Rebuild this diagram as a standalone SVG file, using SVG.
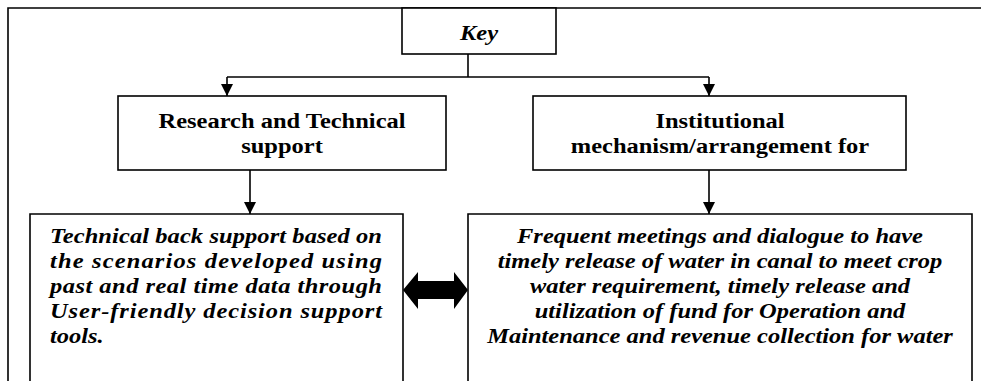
<svg xmlns="http://www.w3.org/2000/svg" width="981" height="381" viewBox="0 0 981 381">
<style>
.box{fill:#fff;stroke:#000;stroke-width:1.6}
.ln{fill:none;stroke:#000;stroke-width:1.6}
.i{font-style:italic}
.c{text-anchor:middle}
</style>
<defs>
<marker id="ah" viewBox="0 0 12 12" refX="12" refY="6" markerWidth="12" markerHeight="12" markerUnits="userSpaceOnUse" orient="auto">
<path d="M0,0 L12,6 L0,12 Z" fill="#000"/>
</marker>
</defs>
<rect width="981" height="381" fill="#fff"/>
<path class="ln" d="M8,381 V8 H981"/>
<g font-family="Liberation Serif" font-weight="bold" font-size="24.5" fill="#000">
<g id="key">
<rect class="box" x="402" y="8" width="154" height="46"/>
<text class="i c" transform="translate(479,40) scale(1,0.86)">Key</text>
</g>
<g id="research">
<rect class="box" x="118" y="96" width="328" height="74"/>
<text class="c" transform="translate(282,128) scale(1,0.86)">Research and Technical</text>
<text class="c" transform="translate(282,153) scale(1,0.86)">support</text>
</g>
<g id="institutional">
<rect class="box" x="533" y="96" width="373" height="74"/>
<text class="c" transform="translate(720,128) scale(1,0.86)">Institutional</text>
<text class="c" transform="translate(720,153) scale(1,0.86)">mechanism/arrangement for</text>
</g>
<g id="technical">
<path class="box" d="M30,381 V214 H403 V381"/>
<text class="i" transform="translate(50,243) scale(1,0.86)" textLength="332" lengthAdjust="spacing">Technical back support based on</text>
<text class="i" transform="translate(50,268) scale(1,0.86)" textLength="332" lengthAdjust="spacing">the scenarios developed using</text>
<text class="i" transform="translate(50,293) scale(1,0.86)" textLength="332" lengthAdjust="spacing">past and real time data through</text>
<text class="i" transform="translate(50,318) scale(1,0.86)" textLength="332" lengthAdjust="spacing">User-friendly decision support</text>
<text class="i" transform="translate(50,343) scale(1,0.86)">tools.</text>
</g>
<g id="meetings">
<path class="box" d="M468,381 V214 H972 V381"/>
<text class="i c" transform="translate(720,243) scale(1,0.86)">Frequent meetings and dialogue to have</text>
<text class="i c" transform="translate(720,268) scale(1,0.86)">timely release of water in canal to meet crop</text>
<text class="i c" transform="translate(720,293) scale(1,0.86)">water requirement, timely release and</text>
<text class="i c" transform="translate(720,318) scale(1,0.86)">utilization of fund for Operation and</text>
<text class="i c" transform="translate(720,343) scale(1,0.86)">Maintenance and revenue collection for water</text>
</g>
</g>
<g id="connectors">
<path class="ln" d="M468,54 V77"/>
<path class="ln" d="M227,77 H709"/>
<path class="ln" d="M227,77 V96" marker-end="url(#ah)"/>
<path class="ln" d="M709,77 V96" marker-end="url(#ah)"/>
<path class="ln" d="M250,170 V214" marker-end="url(#ah)"/>
<path class="ln" d="M709,170 V214" marker-end="url(#ah)"/>
<path d="M403,290 L418,272 V281 H454 V272 L468,290 L454,309 V299 H418 V309 Z" fill="#000"/>
</g>
</svg>
